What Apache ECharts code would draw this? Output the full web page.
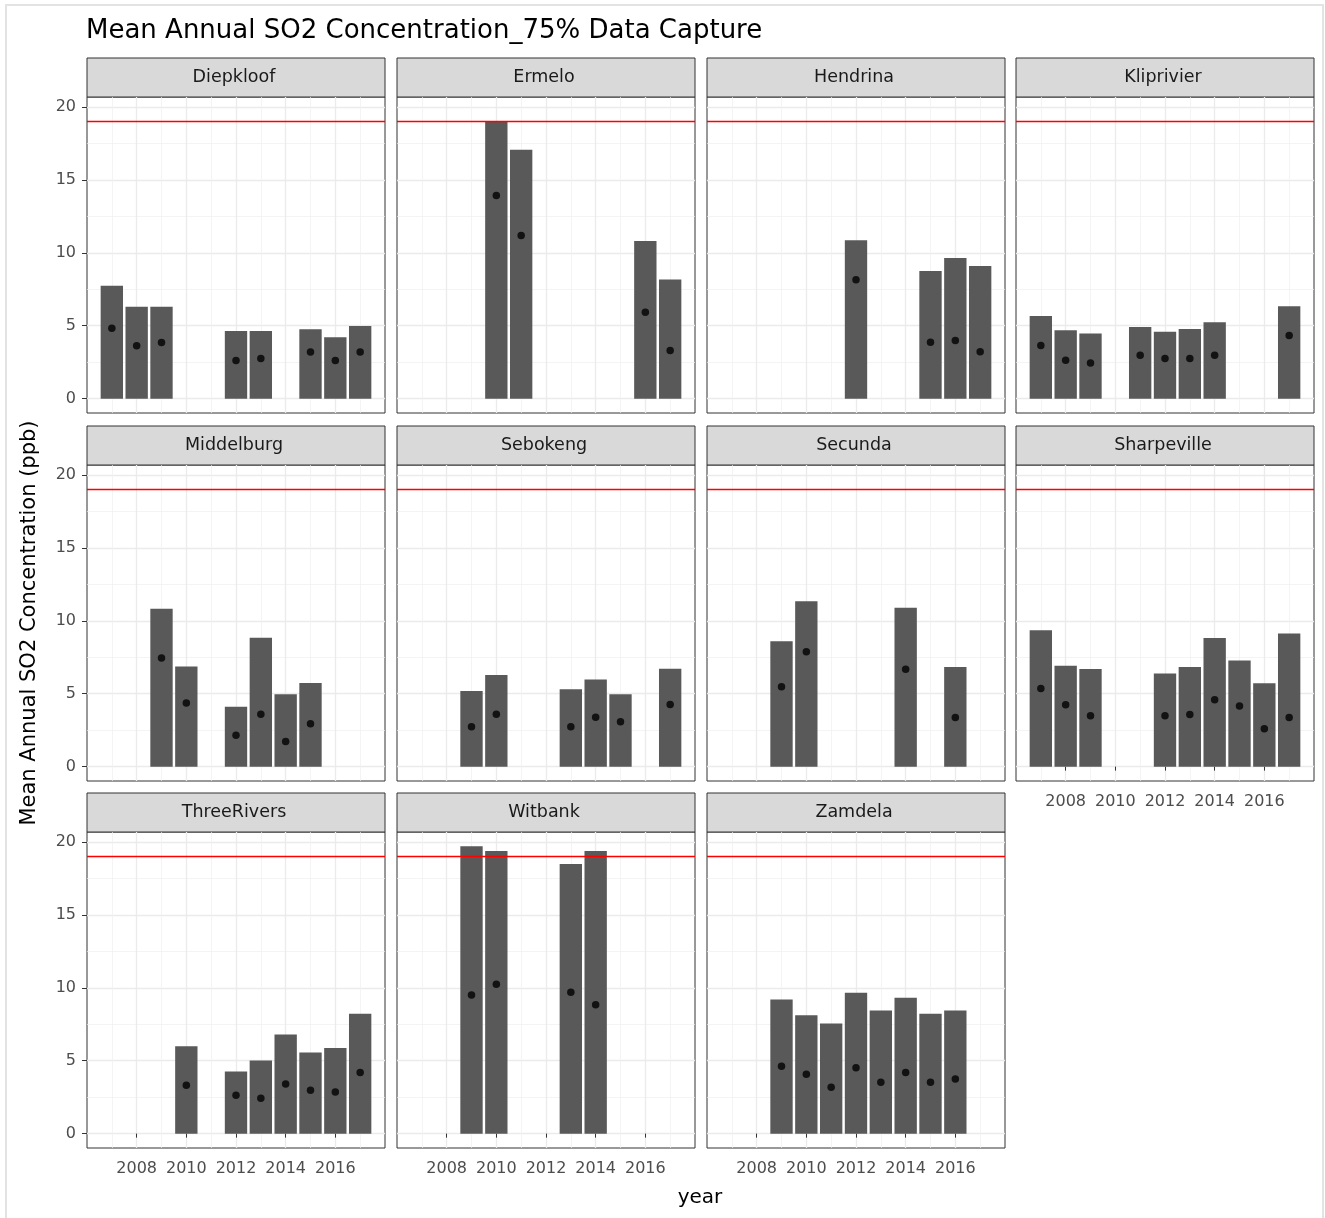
<!DOCTYPE html>
<html>
<head>
<meta charset="utf-8">
<title>Mean Annual SO2 Concentration</title>
<script src="https://cdn.jsdelivr.net/npm/echarts@6/dist/echarts.min.js"></script>
<style>
  html, body { margin: 0; padding: 0; background: #fff; }
  #main { width: 1325px; height: 1218px; }
</style>
</head>
<body>
<div id="main"></div>
<script>
// data: one value per year, null where the station has no year
var years = [2007, 2008, 2009, 2010, 2011, 2012, 2013, 2014, 2015, 2016, 2017];
var xTicks = [2008, 2010, 2012, 2014, 2016];
var yTicks = [0, 5, 10, 15, 20];
var threshold = 19;

var diepkloofBar   = [7.74, 6.30, 6.30, null, null, 4.64, 4.64, null, 4.76, 4.21, 4.98];
var diepkloofMean  = [4.82, 3.62, 3.85, null, null, 2.62, 2.75, null, 3.19, 2.62, 3.19];
var ermeloBar      = [null, null, null, 19.00, 17.07, null, null, null, null, 10.81, 8.17];
var ermeloMean     = [null, null, null, 13.93, 11.19, null, null, null, null, 5.92, 3.30];
var hendrinaBar    = [null, null, null, null, null, 10.87, null, null, 8.75, 9.64, 9.09];
var hendrinaMean   = [null, null, null, null, null, 8.15, null, null, 3.87, 3.99, 3.21];
var kliprivierBar  = [5.67, 4.69, 4.46, null, 4.92, 4.58, 4.78, 5.24, null, null, 6.33];
var kliprivierMean = [3.64, 2.64, 2.44, null, 2.98, 2.76, 2.76, 2.98, null, null, 4.33];
var middelburgBar  = [null, null, 10.82, 6.86, null, 4.10, 8.84, 4.97, 5.74, null, null];
var middelburgMean = [null, null, 7.45, 4.37, null, 2.16, 3.60, 1.73, 2.94, null, null];
var sebokengBar    = [null, null, 5.19, 6.29, null, null, 5.31, 5.97, 4.97, null, 6.72];
var sebokengMean   = [null, null, 2.73, 3.60, null, null, 2.73, 3.39, 3.08, null, 4.26];
var secundaBar     = [null, null, 8.59, 11.34, null, null, null, 10.89, null, 6.83, null];
var secundaMean    = [null, null, 5.47, 7.88, null, null, null, 6.67, null, 3.37, null];
var sharpevilleBar = [9.36, 6.92, 6.70, null, null, 6.38, 6.83, 8.82, 7.27, 5.72, 9.13];
var sharpevilleMean= [5.35, 4.24, 3.49, null, null, 3.49, 3.58, 4.58, 4.15, 2.60, 3.37];
var threeRiversBar = [null, null, null, 6.00, null, 4.26, 5.01, 6.80, 5.56, 5.88, 8.22];
var threeRiversMean= [null, null, null, 3.32, null, 2.63, 2.43, 3.41, 2.97, 2.86, 4.19];
var witbankBar     = [null, null, 19.70, 19.38, null, null, 18.49, 19.38, null, null, null];
var witbankMean    = [null, null, 9.50, 10.25, null, null, 9.70, 8.83, null, null, null];
var zamdelaBar     = [null, null, 9.20, 8.12, 7.55, 9.66, 8.44, 9.31, 8.22, 8.44, null];
var zamdelaMean    = [null, null, 4.62, 4.07, 3.18, 4.51, 3.52, 4.19, 3.52, 3.75, null];

var panels = [
  ['Diepkloof', diepkloofBar, diepkloofMean],
  ['Ermelo', ermeloBar, ermeloMean],
  ['Hendrina', hendrinaBar, hendrinaMean],
  ['Kliprivier', kliprivierBar, kliprivierMean],
  ['Middelburg', middelburgBar, middelburgMean],
  ['Sebokeng', sebokengBar, sebokengMean],
  ['Secunda', secundaBar, secundaMean],
  ['Sharpeville', sharpevilleBar, sharpevilleMean],
  ['ThreeRivers', threeRiversBar, threeRiversMean],
  ['Witbank', witbankBar, witbankMean],
  ['Zamdela', zamdelaBar, zamdelaMean]
];

// layout
var colLeft = [87, 397, 707, 1016];
var rowTop = [97, 465, 832];
var panelW = 298, panelH = 316, stripH = 39;
var font = 'DejaVu Sans';
var xMin = 2006, xMax = 2018;

var dataMax = 0;
panels.forEach(function (p) {
  p[1].forEach(function (v) { if (v != null && v > dataMax) dataMax = v; });
});
var yMin = -0.05 * dataMax, yMax = 1.05 * dataMax;

function pairs(arr) {
  var out = [];
  years.forEach(function (y, i) { if (arr[i] != null) out.push([y, arr[i]]); });
  return out;
}

var myChart = echarts.init(document.getElementById('main'));

var grids = [], xAxes = [], yAxes = [], series = [];
var graphics = [{
  type: 'rect', z: -10,
  shape: { x: 6, y: 5, width: 1317, height: 1300 },
  style: { fill: 'none', stroke: '#E3E3E3', lineWidth: 2 }
}];

panels.forEach(function (p, i) {
  var col = i % 4, row = Math.floor(i / 4);
  var showX = i >= 7;
  var showY = col === 0;
  grids.push({
    left: colLeft[col], top: rowTop[row], width: panelW, height: panelH,
    show: true, backgroundColor: '#fff', borderColor: '#333333', borderWidth: 1
  });
  xAxes.push({
    type: 'value', gridIndex: i, min: xMin, max: xMax, interval: 2,
    axisLine: { show: false },
    axisTick: { show: showX, customValues: xTicks, length: 4, lineStyle: { color: '#333333' } },
    axisLabel: {
      show: showX, customValues: xTicks, margin: 13, fontFamily: font, fontSize: 16, color: '#4D4D4D',
      formatter: function (v) { return String(v); }
    },
    splitLine: { show: true, lineStyle: { color: '#EBEBEB', width: 1.3 } },
    minorTick: { show: false, splitNumber: 2 },
    minorSplitLine: { show: true, lineStyle: { color: '#EFEFEF', width: 0.7 } }
  });
  yAxes.push({
    type: 'value', gridIndex: i, min: yMin, max: yMax,
    splitNumber: 5, minInterval: 5, maxInterval: 5,
    axisLine: { show: false },
    axisTick: { show: showY, customValues: yTicks, length: 5, lineStyle: { color: '#333333' } },
    axisLabel: { show: showY, customValues: yTicks, margin: 11, fontFamily: font, fontSize: 16, color: '#4D4D4D' },
    splitLine: { show: true, lineStyle: { color: '#EBEBEB', width: 1.3 } },
    minorTick: { show: false, splitNumber: 2 },
    minorSplitLine: { show: true, lineStyle: { color: '#EFEFEF', width: 0.7 } }
  });
  series.push({
    name: p[0], type: 'bar', xAxisIndex: i, yAxisIndex: i,
    data: pairs(p[1]),
    barWidth: panelW / (xMax - xMin) * 0.9,
    itemStyle: { color: '#595959' },
    silent: true
  });
  // threshold line across the whole panel
  series.push({
    name: p[0] + ' limit', type: 'line', xAxisIndex: i, yAxisIndex: i,
    data: [[xMin, threshold], [xMax, threshold]],
    symbol: 'none', silent: true, z: 4,
    lineStyle: { color: '#FF0000', width: 1.6 }
  });
  series.push({
    name: p[0] + ' mean', type: 'scatter', xAxisIndex: i, yAxisIndex: i,
    data: pairs(p[2]),
    symbolSize: 7.5, itemStyle: { color: '#000' }, z: 5, silent: true
  });
  // facet strip
  graphics.push({
    type: 'rect',
    shape: { x: colLeft[col], y: rowTop[row] - stripH, width: panelW, height: stripH },
    style: { fill: '#D9D9D9', stroke: '#333333', lineWidth: 1 }
  });
  graphics.push({
    type: 'text',
    x: colLeft[col] + panelW / 2 - 2, y: rowTop[row] - stripH / 2,
    style: { text: p[0], fontFamily: font, fontSize: 17.5, fill: '#1A1A1A', align: 'center', verticalAlign: 'middle' }
  });
});

graphics.push({
  type: 'text', x: 30, y: 623, rotation: Math.PI / 2,
  style: { text: 'Mean Annual SO2 Concentration (ppb)', fontFamily: font, fontSize: 21, fill: '#000', align: 'center', verticalAlign: 'middle' }
});
graphics.push({
  type: 'text', x: 700, y: 1198,
  style: { text: 'year', fontFamily: font, fontSize: 20, fill: '#000', align: 'center', verticalAlign: 'middle' }
});

option = {
  backgroundColor: '#fff',
  animation: false,
  title: {
    text: 'Mean Annual SO2 Concentration_75% Data Capture',
    left: 86, top: 18, padding: 0,
    textStyle: { fontFamily: font, fontSize: 26, fontWeight: 'normal', color: '#000' }
  },
  grid: grids,
  xAxis: xAxes,
  yAxis: yAxes,
  series: series,
  graphic: { elements: graphics }
};

myChart.setOption(option);
</script>
</body>
</html>
